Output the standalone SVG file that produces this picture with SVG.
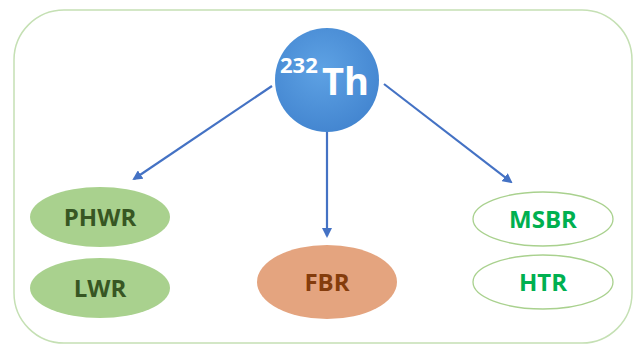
<svg xmlns="http://www.w3.org/2000/svg" width="633" height="345" viewBox="0 0 633 345">
<style>
.lbl{font-family:"Open Sans","Liberation Sans",sans-serif;font-weight:bold;font-size:24px;text-anchor:middle}
.conn{stroke:#4472c4;stroke-width:2.2;fill:none}
</style>
<defs>
<marker id="ah" markerWidth="10" markerHeight="10" refX="8" refY="5" orient="auto" markerUnits="userSpaceOnUse">
<path d="M0,0 L10,5 L0,10 Z" fill="#4472c4"/>
</marker>
<radialGradient id="cg" cx="45%" cy="40%" r="65%">
<stop offset="0" stop-color="#5ea2e4"/>
<stop offset="1" stop-color="#4284cf"/>
</radialGradient>
</defs>
<rect width="633" height="345" fill="#ffffff"/>
<rect x="14" y="10" width="618" height="333" rx="50" ry="50" fill="none" stroke="#c5e0b4" stroke-width="1.5"/>
<g id="connectors">
<line class="conn" x1="272" y1="86" x2="134" y2="179" marker-end="url(#ah)"/>
<line class="conn" x1="327" y1="131" x2="327" y2="236" marker-end="url(#ah)"/>
<line class="conn" x1="384" y1="84" x2="511" y2="182" marker-end="url(#ah)"/>
</g>
<g id="th232">
<circle cx="327" cy="80" r="52" fill="url(#cg)"/>
<text font-family="Open Sans,Liberation Sans,sans-serif" font-weight="bold" fill="#ffffff"><tspan x="280" y="73" font-size="22">232</tspan><tspan x="322" y="95" font-size="38">Th</tspan></text>
</g>
<g id="phwr">
<ellipse cx="100" cy="217" rx="70" ry="30" fill="#a9d18e"/>
<text class="lbl" x="100" y="226" fill="#375623">PHWR</text>
</g>
<g id="lwr">
<ellipse cx="100" cy="288" rx="70" ry="30" fill="#a9d18e"/>
<text class="lbl" x="100" y="297" fill="#375623">LWR</text>
</g>
<g id="fbr">
<ellipse cx="327" cy="282" rx="70" ry="37" fill="#e4a47f"/>
<text class="lbl" x="327" y="291" fill="#843c0c">FBR</text>
</g>
<g id="msbr">
<ellipse cx="543" cy="219" rx="70" ry="27" fill="#ffffff" stroke="#a9d18e" stroke-width="1.3"/>
<text class="lbl" x="543" y="228" fill="#00b050">MSBR</text>
</g>
<g id="htr">
<ellipse cx="543" cy="282" rx="70" ry="27" fill="#ffffff" stroke="#a9d18e" stroke-width="1.3"/>
<text class="lbl" x="543" y="291" fill="#00b050">HTR</text>
</g>
</svg>
